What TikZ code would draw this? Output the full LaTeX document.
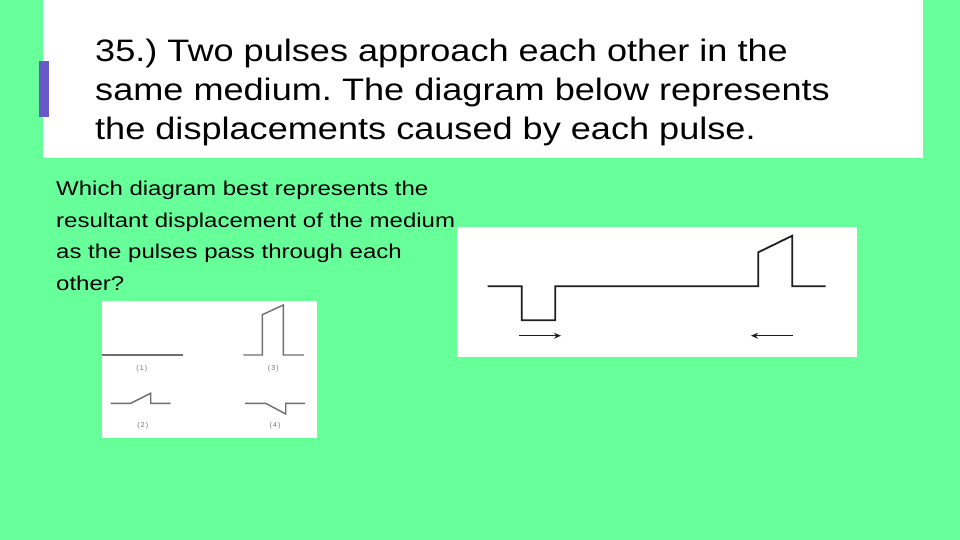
\documentclass[tikz,border=0pt]{standalone}
\usepackage{fontspec}
\setmainfont{Liberation Sans}
\newfontfamily\titlefont[FakeStretch=1.165]{Liberation Sans}
\newfontfamily\bodyfont[FakeStretch=1.2]{Liberation Sans}
\usepackage{tikz}
\usetikzlibrary{arrows.meta}
\usepackage{xcolor}
\definecolor{slidegreen}{RGB}{102,255,153}
\definecolor{barpurple}{RGB}{104,88,204}
\definecolor{inkdark}{RGB}{30,30,30}
\definecolor{inkgray}{RGB}{110,110,110}
\tikzset{
    title-text/.style = {anchor=base west, inner sep=0pt, font=\titlefont\fontsize{31}{39}\selectfont},
    body-text/.style = {anchor=base west, inner sep=0pt, font=\bodyfont\fontsize{20}{31}\selectfont},
    choice-label/.style = {inner sep=0pt, text=inkgray, font=\fontsize{7}{8}\selectfont},
    pulse-line/.style = {draw=inkdark, line width=1.8pt},
    choice-line/.style = {draw=inkgray, line width=1.4pt},
    move-arrow/.style = {draw=inkdark, line width=1.5pt, -{Stealth[length=7pt,width=6pt]}},
}

\begin{document}
\frenchspacing
\begin{tikzpicture}[x=1pt, y=-1pt]
\fill[slidegreen] (0,0) rectangle (960,540);
\useasboundingbox (0,0) rectangle (960,540);
% title box
\fill[white] (43,0) rectangle (923,158);
\fill[barpurple] (39,61) rectangle (49,117);
\node[title-text] (title1) at (95,61.7) {35.) Two pulses approach each other in the};
\node[title-text] (title2) at (95,100.9) {same medium. The diagram below represents};
\node[title-text] (title3) at (95,140) {the displacements caused by each pulse.};
% question
\node[body-text] (ask1) at (56,195.7) {Which diagram best represents the};
\node[body-text] (ask2) at (56,227.2) {resultant displacement of the medium};
\node[body-text] (ask3) at (56,258.7) {as the pulses pass through each};
\node[body-text] (ask4) at (56,290.2) {other?};
% the two pulses
\fill[white] (457,227) rectangle (857,357);
\draw[pulse-line] (487.7,286.3) -- (521.7,286.3) -- (521.7,320.3) -- (555.3,320.3) -- (555.3,286.3)
    -- (758.3,286.3) -- (758.3,252.3) -- (792.3,235.7) -- (792.3,286.3) -- (825.7,286.3);
\coordinate (right-tail) at (519,335.7);
\coordinate (right-head) at (561,335.7);
\coordinate (left-tail) at (793,335.7);
\coordinate (left-head) at (751,335.7);
\draw[move-arrow] (right-tail) -- (right-head);
\draw[move-arrow] (left-tail) -- (left-head);
% the four answers
\fill[white] (102,301) rectangle (317,438);
\draw[choice-line] (102,355) -- (182.7,355);
\node[choice-label] (opt1) at (141.7,368.3) {(\,1\,)};
\draw[choice-line] (243.3,355) -- (262.3,355) -- (262.3,314.7) -- (283.3,305) -- (283.3,355) -- (304,355);
\node[choice-label] (opt3) at (273.3,368.3) {(\,3\,)};
\draw[choice-line] (110.7,403.3) -- (130.7,403.3) -- (150.7,393.3) -- (150.7,403.3) -- (170.7,403.3);
\node[choice-label] (opt2) at (142.7,426) {(\,2\,)};
\draw[choice-line] (245,403.3) -- (265.7,403.3) -- (285.7,414) -- (285.7,403.3) -- (305,403.3);
\node[choice-label] (opt4) at (275,426) {(\,4\,)};
\end{tikzpicture}
\end{document}
